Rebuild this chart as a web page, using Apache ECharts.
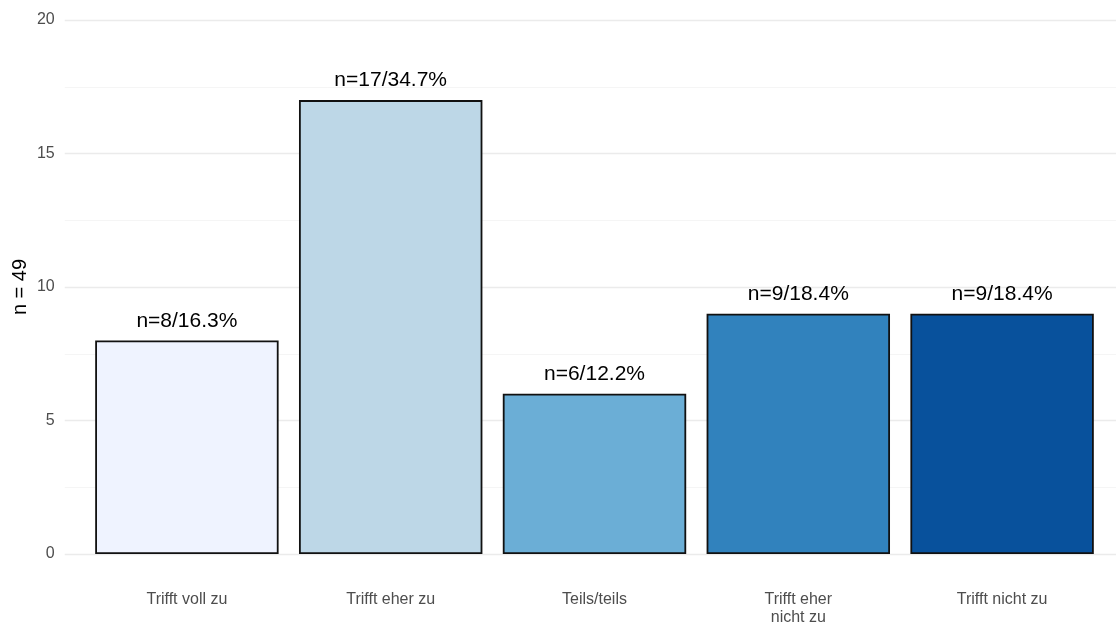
<!DOCTYPE html>
<html>
<head>
<meta charset="utf-8">
<script src="https://cdn.jsdelivr.net/npm/echarts@6/dist/echarts.min.js"></script>
<style>
  html, body { margin: 0; padding: 0; background: #fff; }
  #chart { width: 1116px; height: 623px; }
</style>
</head>
<body>
<div id="chart"></div>
<script>
const categories = ['Trifft voll zu', 'Trifft eher zu', 'Teils/teils', 'Trifft eher\nnicht zu', 'Trifft nicht zu'];
const counts = [8, 17, 6, 9, 9];
const percents = ['16.3', '34.7', '12.2', '18.4', '18.4'];
const colors = ['#EFF3FF', '#BDD7E7', '#6BAED6', '#3182BD', '#08519C'];
const yTicks = { min: 0, max: 20, interval: 5 };
const yTitle = 'n = 49';

const FONT = '"Liberation Sans", Arial, sans-serif';
const chart = echarts.init(document.getElementById('chart'), null, { renderer: 'canvas' });

chart.setOption({
  animation: false,
  backgroundColor: '#ffffff',
  grid: [
    { left: 64.75, right: -8, top: 20, bottom: 69, containLabel: false, outerBoundsMode: 'none' },
    { left: 85, right: 12, top: 20, bottom: 69, containLabel: false, outerBoundsMode: 'none' }
  ],
  xAxis: [
    { gridIndex: 0, type: 'value', min: 0, max: 1, show: false },
    {
      gridIndex: 1, type: 'category', data: categories,
      axisLine: { show: false }, axisTick: { show: false }, splitLine: { show: false },
      axisLabel: { color: '#4d4d4d', fontSize: 16, fontFamily: FONT, margin: 36, lineHeight: 18.5, interval: 0 }
    }
  ],
  yAxis: [
    {
      gridIndex: 0, type: 'value', min: yTicks.min, max: yTicks.max, interval: yTicks.interval,
      name: yTitle, nameLocation: 'middle', nameGap: 34, nameRotate: 90, nameMoveOverlap: false,
      nameTextStyle: { color: '#000', fontSize: 20, fontFamily: FONT },
      axisLine: { show: false }, axisTick: { show: false },
      axisLabel: { color: '#4d4d4d', fontSize: 16, fontFamily: FONT, margin: 10 },
      splitLine: { show: true, lineStyle: { color: '#ebebeb', width: 1.3 } },
      minorTick: { show: false, splitNumber: 2 },
      minorSplitLine: { show: true, lineStyle: { color: '#f2f2f2', width: 0.8 } }
    },
    { gridIndex: 1, type: 'value', min: yTicks.min, max: yTicks.max, interval: yTicks.interval, show: false, splitLine: { show: false } }
  ],
  series: [
    {
      type: 'bar',
      xAxisIndex: 1, yAxisIndex: 1,
      barWidth: '90%',
      data: counts.map((v, i) => ({ value: v, itemStyle: { color: colors[i] } })),
      itemStyle: { borderColor: '#111', borderWidth: 1.8 },
      label: {
        show: true, position: 'top', distance: 9,
        color: '#000', fontSize: 21, fontFamily: FONT,
        formatter: p => 'n=' + counts[p.dataIndex] + '/' + percents[p.dataIndex] + '%'
      }
    }
  ]
});
</script>
</body>
</html>
